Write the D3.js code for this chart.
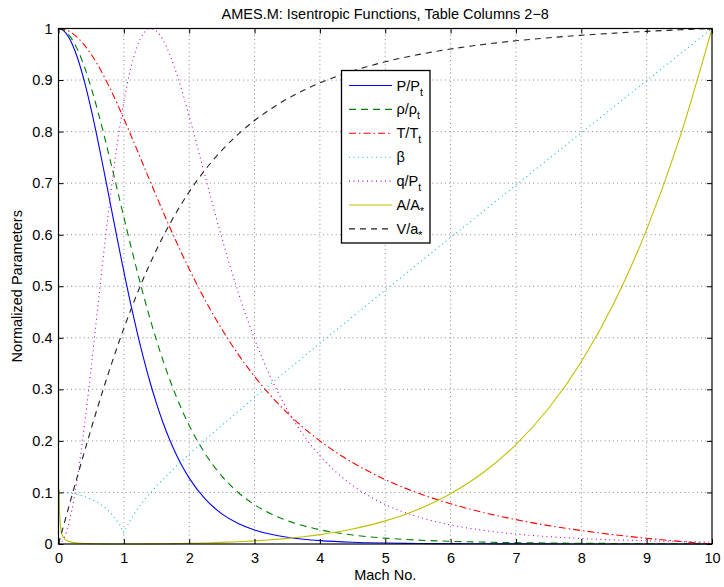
<!DOCTYPE html>
<html>
<head>
<meta charset="utf-8">
<script src="https://cdn.jsdelivr.net/npm/d3@7"></script>
<style>
  html, body { margin: 0; padding: 0; background: #fff; }
  svg { display: block; font-family: "Liberation Sans", Arial, Helvetica, sans-serif; }
</style>
</head>
<body>
<svg id="chart" width="724" height="587"></svg>
<script>
// Mach numbers at which the isentropic table is sampled
const mach = [0, 0.01, 0.02, 0.05, 0.1, 0.2, 0.3, 0.4, 0.5, 0.6, 0.7, 0.8, 0.9, 1.0,
  1.1, 1.2, 1.3, 1.4, 1.5, 1.6, 1.7, 1.8, 1.9, 2.0, 2.25, 2.5, 2.75, 3.0, 3.25, 3.5,
  3.75, 4.0, 4.5, 5.0, 5.5, 6.0, 6.5, 7.0, 7.5, 8.0, 8.5, 9.0, 9.5, 10.0];

// Normalized table columns (0..1)
const pRatio = [1, 0.99993, 0.99972, 0.99825, 0.993031, 0.972496, 0.939469, 0.895620, 0.843019,
  0.784004, 0.720928, 0.656015, 0.591260, 0.528282, 0.468342, 0.412377, 0.360914, 0.314241,
  0.272403, 0.235271, 0.202570, 0.174040, 0.149227, 0.127805, 0.086471, 0.058528, 0.039774,
  0.027224, 0.018800, 0.013111, 0.009241, 0.006586, 0.003455, 0.001890, 0.001075, 0.000633,
  0.000386, 0.000242, 0.000156, 0.000102, 0.000069, 0.000047, 0.000033, 0];
const rhoRatio = [1, 0.99995, 0.99980, 0.99875, 0.995017, 0.980277, 0.956380, 0.924273, 0.885170,
  0.840452, 0.791578, 0.739992, 0.687044, 0.633938, 0.581695, 0.531142, 0.482907, 0.437423,
  0.394984, 0.355738, 0.319686, 0.286801, 0.256979, 0.230048, 0.174036, 0.131687, 0.099900,
  0.076183, 0.058510, 0.045233, 0.035235, 0.027662, 0.017453, 0.011340, 0.007578, 0.005194,
  0.003642, 0.002609, 0.001904, 0.001413, 0.001066, 0.000815, 0.000631, 0];
const tRatio = [1, 0.999979, 0.999916, 0.999475, 0.997904, 0.991666, 0.981434, 0.967442, 0.950000,
  0.929478, 0.906284, 0.880851, 0.853614, 0.825000, 0.795411, 0.765218, 0.734753, 0.704311,
  0.674138, 0.644445, 0.615400, 0.587136, 0.559756, 0.533334, 0.471739, 0.416666, 0.367911,
  0.325000, 0.287349, 0.254348, 0.225410, 0.200000, 0.157921, 0.125000, 0.098936, 0.078049,
  0.061111, 0.047223, 0.035715, 0.026087, 0.017961, 0.011047, 0.005118, 0];
const beta = [0.1005, 0.10050, 0.10048, 0.10038, 0.1000, 0.098473, 0.095874, 0.092113, 0.087039,
  0.080403, 0.071774, 0.060302, 0.043809, 0.022, 0.046057, 0.066667, 0.083485, 0.098473,
  0.112367, 0.125529, 0.138170, 0.150420, 0.162369, 0.174078, 0.202572, 0.230283, 0.257464,
  0.284268, 0.310791, 0.337100, 0.363242, 0.389249, 0.440959, 0.492366, 0.543557, 0.594588,
  0.645497, 0.696311, 0.747048, 0.797724, 0.848353, 0.898933, 0.949482, 1];
const qRatio = [0, 0.000162, 0.000649, 0.004051, 0.016120, 0.063146, 0.137254, 0.232614, 0.342123,
  0.458164, 0.573443, 0.681545, 0.777437, 0.857560, 0.919923, 0.963958, 0.990126, 0.999821,
  0.994934, 0.977695, 0.950308, 0.915355, 0.874484, 0.829860, 0.710611, 0.593802, 0.488271,
  0.397735, 0.322347, 0.260716, 0.210950, 0.171058, 0.113572, 0.076701, 0.052788, 0.036992,
  0.026474, 0.019249, 0.014244, 0.010597, 0.008081, 0.006219, 0.004849, 0.003815];
const areaRatio = [null, 0.106317, 0.052232, 0.019799, 0.009014, 0.003671, 0.001935, 0.001103, 0.000634,
  0.000351, 0.000176, 0.000071, 0.000016, 0, 0.000015, 0.000057, 0.000124, 0.000214,
  0.000330, 0.000468, 0.000631, 0.000820, 0.001038, 0.001285, 0.002050, 0.003060, 0.004370,
  0.006046, 0.008167, 0.010823, 0.014118, 0.018168, 0.029089, 0.044866, 0.067053, 0.097550,
  0.138585, 0.192814, 0.263287, 0.353516, 0.467521, 0.609786, 0.785382, 1];
const velRatio = [0, 0.004582, 0.009164, 0.022907, 0.045780, 0.091287, 0.136257, 0.180439, 0.223607,
  0.265561, 0.306131, 0.345179, 0.382604, 0.418330, 0.452316, 0.484543, 0.515021, 0.543774,
  0.570843, 0.596285, 0.620162, 0.642544, 0.663509, 0.683130, 0.726815, 0.763763, 0.795041,
  0.821584, 0.844188, 0.863512, 0.880109, 0.894427, 0.917649, 0.935414, 0.949245, 0.960180,
  0.968962, 0.976103, 0.981981, 0.986870, 0.990981, 0.994464, 0.997443, 1];

const xTicks = [0, 1, 2, 3, 4, 5, 6, 7, 8, 9, 10];
const yTicks = [0, 0.1, 0.2, 0.3, 0.4, 0.5, 0.6, 0.7, 0.8, 0.9, 1];

// Series: values, legend label parts [text, kind], styling
const series = [
  { values: pRatio,    label: [["P/P", ""], ["t", "sub"]], color: "#0000ff", dash: null,        curve: d3.curveMonotoneX },
  { values: rhoRatio,  label: [["ρ/ρ", ""], ["t", "sub"]], color: "#008000", dash: "7,5",       curve: d3.curveMonotoneX },
  { values: tRatio,    label: [["T/T", ""], ["t", "sub"]], color: "#ff0000", dash: "7,3,1.5,3", curve: d3.curveMonotoneX },
  { values: beta,      label: [["β", ""]],                  color: "#00bfbf", dash: "1,3.5",     curve: d3.curveLinear },
  { values: qRatio,    label: [["q/P", ""], ["t", "sub"]], color: "#bf00bf", dash: "1,3.5",     curve: d3.curveMonotoneX },
  { values: areaRatio, label: [["A/A", ""], ["*", "sub"]], color: "#bfbf00", dash: null,        curve: d3.curveMonotoneX },
  { values: velRatio,  label: [["V/a", ""], ["*", "sub"]], color: "#222222", dash: "6,5",       curve: d3.curveMonotoneX }
];

const svg = d3.select("#chart");
const margin = { left: 58.5, right: 12, top: 28.5, bottom: 43 };
const W = 724, H = 587;
const FS = 14.5;

const x = d3.scaleLinear().domain([0, 10]).range([margin.left, W - margin.right]);
const y = d3.scaleLinear().domain([0, 1]).range([H - margin.bottom, margin.top]);

// dotted grid
const grid = svg.append("g").attr("stroke", "#555").attr("stroke-width", 0.7)
  .attr("stroke-dasharray", "1,3.2");
grid.selectAll(".gx").data(xTicks.slice(1, -1)).join("line")
  .attr("x1", d => x(d)).attr("x2", d => x(d))
  .attr("y1", y(0)).attr("y2", y(1));
grid.selectAll(".gy").data(yTicks.slice(1, -1)).join("line")
  .attr("x1", x(0)).attr("x2", x(10))
  .attr("y1", d => y(d)).attr("y2", d => y(d));

// curves
const plot = svg.append("g");
series.forEach(s => {
  const pts = mach.map((m, i) => [m, s.values[i]]);
  const line = d3.line()
    .defined(d => d[1] !== null)
    .x(d => x(d[0])).y(d => y(d[1]))
    .curve(s.curve);
  plot.append("path")
    .attr("d", line(pts))
    .attr("fill", "none")
    .attr("stroke", s.color)
    .attr("stroke-width", 1.1)
    .attr("stroke-dasharray", s.dash);
});

// axes: ticks inside, mirrored on top and right
const tickLen = 5;
const axB = d3.axisBottom(x).tickValues(xTicks).tickSize(-tickLen).tickPadding(9).tickFormat(d3.format("d"));
const axL = d3.axisLeft(y).tickValues(yTicks).tickSize(-tickLen).tickPadding(6)
  .tickFormat(d => d === 0 || d === 1 ? d3.format("d")(d) : d3.format(".1f")(d));
const axT = d3.axisTop(x).tickValues(xTicks).tickSize(-tickLen).tickFormat("");
const axR = d3.axisRight(y).tickValues(yTicks).tickSize(-tickLen).tickFormat("");

function styleAxis(g) {
  g.select(".domain").remove();
  g.selectAll("line").attr("stroke", "#000").attr("stroke-width", 1);
  g.selectAll("text").attr("fill", "#000").attr("font-size", FS)
    .attr("font-family", "Liberation Sans, Arial, sans-serif");
}
svg.append("g").attr("transform", `translate(0,${y(0)})`).call(axB).call(styleAxis);
svg.append("g").attr("transform", `translate(${x(0)},0)`).call(axL).call(styleAxis);
svg.append("g").attr("transform", `translate(0,${y(1)})`).call(axT).call(styleAxis);
svg.append("g").attr("transform", `translate(${x(10)},0)`).call(axR).call(styleAxis);

// frame
svg.append("rect")
  .attr("x", x(0)).attr("y", y(1))
  .attr("width", x(10) - x(0)).attr("height", y(0) - y(1))
  .attr("fill", "none").attr("stroke", "#000").attr("stroke-width", 1.2);

// title and axis labels
const cx = (x(0) + x(10)) / 2;
svg.append("text").attr("x", cx).attr("y", 18.5).attr("text-anchor", "middle")
  .attr("font-size", FS).text("AMES.M: Isentropic Functions, Table Columns 2\u22128");
svg.append("text").attr("x", cx).attr("y", 580).attr("text-anchor", "middle")
  .attr("font-size", FS).text("Mach No.");
svg.append("text").attr("transform", `translate(22,${(y(0) + y(1)) / 2}) rotate(-90)`)
  .attr("text-anchor", "middle").attr("font-size", FS).text("Normalized Parameters");

// legend
const lg = svg.append("g").attr("transform", "translate(341.5,70.5)");
lg.append("rect").attr("width", 88.5).attr("height", 172.5)
  .attr("fill", "#fff").attr("stroke", "#000").attr("stroke-width", 1.3);
series.forEach((s, i) => {
  const ry = 15 + i * 23.9;
  lg.append("line").attr("x1", 7.5).attr("x2", 50.5).attr("y1", ry).attr("y2", ry)
    .attr("stroke", s.color).attr("stroke-width", 1.1).attr("stroke-dasharray", s.dash);
  const t = lg.append("text").attr("x", 55).attr("y", ry + 5).attr("font-size", FS);
  s.label.forEach(([txt, kind]) => {
    if (kind === "sub") {
      t.append("tspan").attr("dy", 5).attr("font-size", 10.5).text(txt);
    } else {
      t.append("tspan").text(txt);
    }
  });
});
</script>
</body>
</html>
